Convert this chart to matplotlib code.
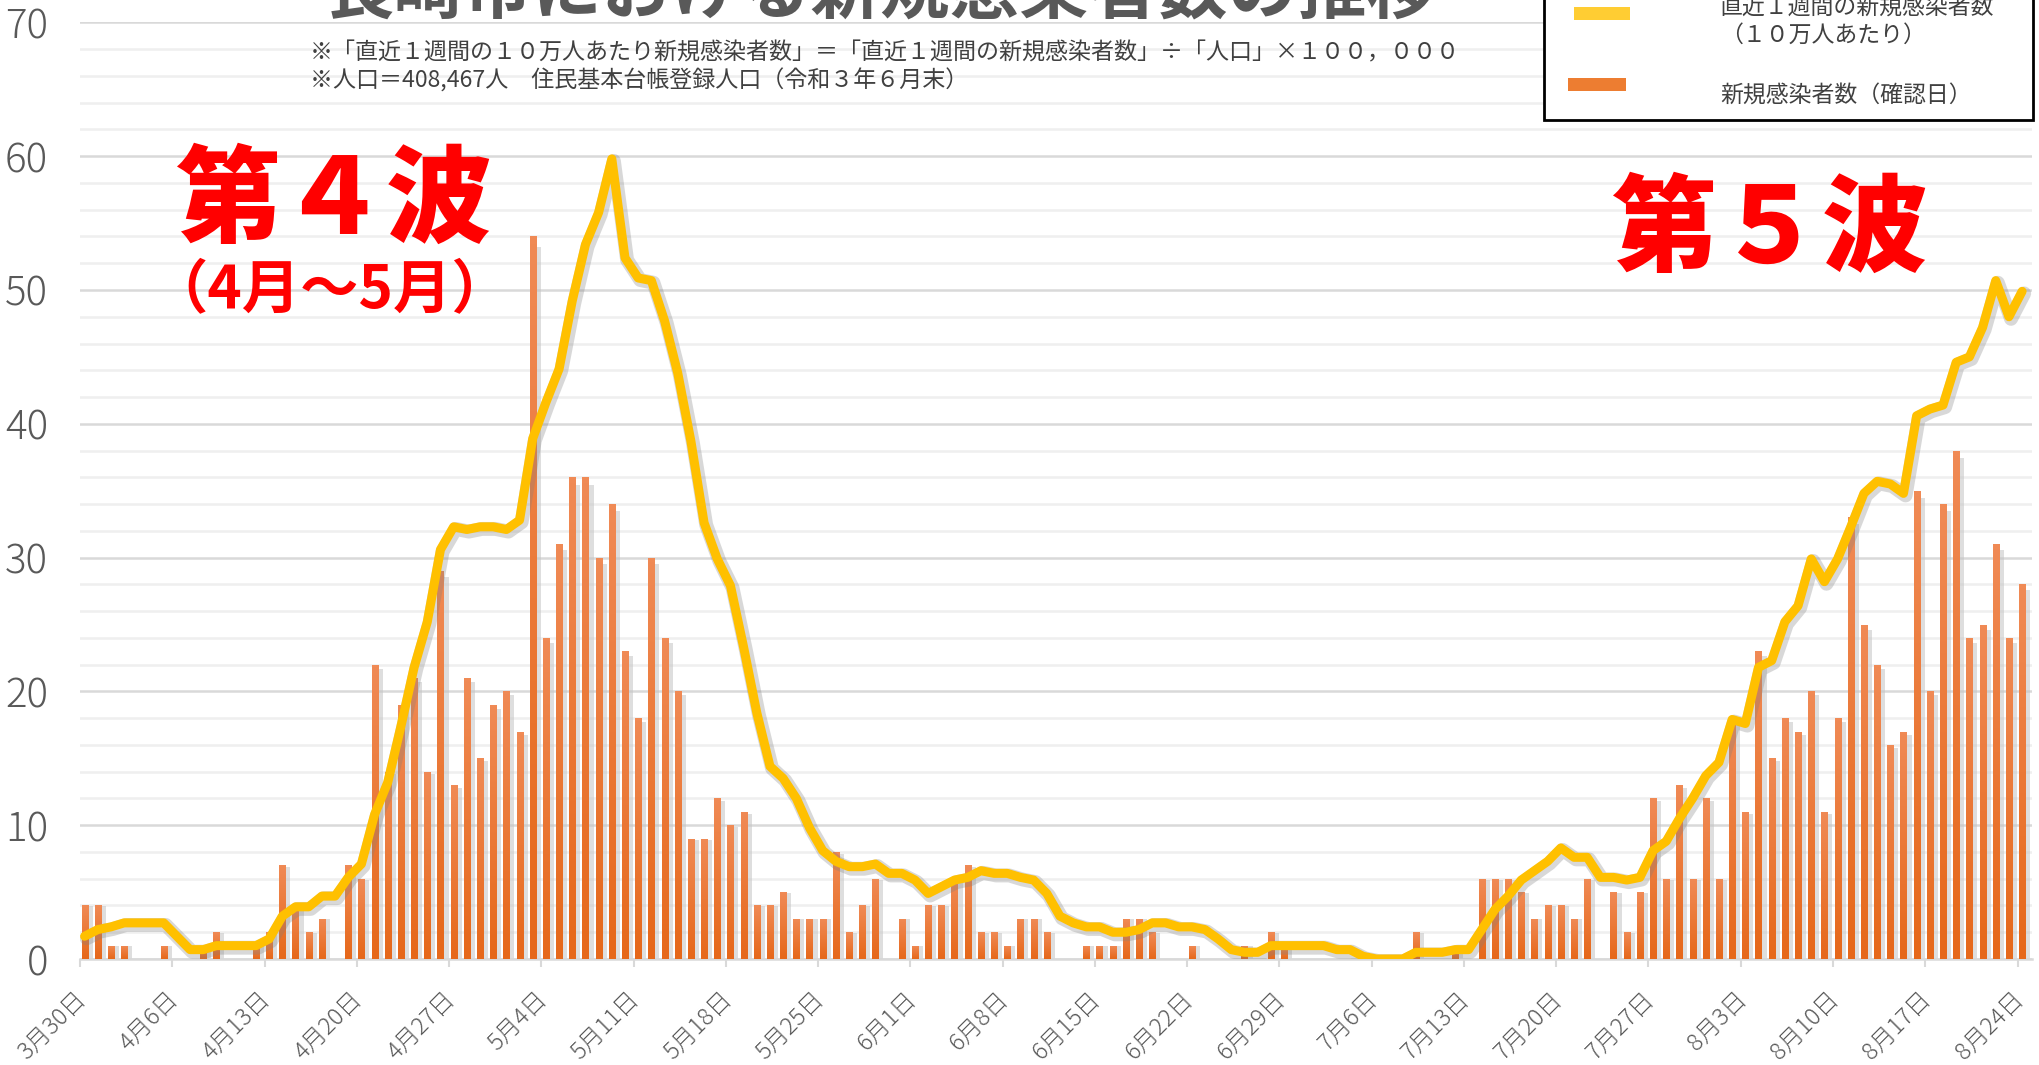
import numpy as np
import matplotlib
matplotlib.use('Agg')
import matplotlib.pyplot as plt
from matplotlib import patheffects as pe
from matplotlib.colors import LinearSegmentedColormap
from matplotlib.patches import Rectangle
from matplotlib.transforms import ScaledTranslation

plt.rcParams['font.family'] = ['Noto Sans CJK JP', 'DejaVu Sans']

# daily new cases (confirmation date), 3/30 .. 8/24
cases = [4, 4, 1, 1, 0, 0, 1, 0, 0, 1, 2, 0, 0, 1, 2, 7, 4, 2, 3, 0,
         7, 6, 22, 14, 19, 21, 14, 29, 13, 21, 15, 19, 20, 17, 54, 24, 31, 36, 36, 30,
         34, 23, 18, 30, 24, 20, 9, 9, 12, 10, 11, 4, 4, 5, 3, 3, 3, 8, 2, 4,
         6, 0, 3, 1, 4, 4, 6, 7, 2, 2, 1, 3, 3, 2, 0, 0, 1, 1, 1, 3,
         3, 2, 0, 0, 1, 0, 0, 0, 1, 0, 2, 1, 0, 0, 0, 0, 0, 0, 0, 0,
         0, 2, 0, 0, 1, 0, 6, 6, 6, 5, 3, 4, 4, 3, 6, 0, 5, 2, 5, 12,
         6, 13, 6, 12, 6, 18, 11, 23, 15, 18, 17, 20, 11, 18, 33, 25, 22, 16, 17, 35,
         20, 34, 38, 24, 25, 31, 24, 28]

# last 7 days per 100k people
per100k = [1.7, 2.2, 2.4, 2.7, 2.7, 2.7, 2.7, 1.7, 0.7, 0.7, 1.0, 1.0, 1.0, 1.0, 1.5, 3.2, 3.9, 3.9, 4.7, 4.7,
           6.1, 7.1, 10.8, 13.2, 17.4, 21.8, 25.2, 30.6, 32.3, 32.1, 32.3, 32.3, 32.1, 32.8, 38.9, 41.6, 44.1, 49.2, 53.4, 55.8,
           59.8, 52.4, 50.9, 50.7, 47.7, 43.8, 38.7, 32.6, 29.9, 27.9, 23.3, 18.4, 14.4, 13.5, 12.0, 9.8, 8.1, 7.3, 6.9, 6.9,
           7.1, 6.4, 6.4, 5.9, 4.9, 5.4, 5.9, 6.1, 6.6, 6.4, 6.4, 6.1, 5.9, 4.9, 3.2, 2.7, 2.4, 2.4, 2.0, 2.0,
           2.2, 2.7, 2.7, 2.4, 2.4, 2.2, 1.5, 0.7, 0.5, 0.5, 1.0, 1.0, 1.0, 1.0, 1.0, 0.7, 0.7, 0.2, 0.0, 0.0,
           0.0, 0.5, 0.5, 0.5, 0.7, 0.7, 2.2, 3.7, 4.7, 5.9, 6.6, 7.3, 8.3, 7.6, 7.6, 6.1, 6.1, 5.9, 6.1, 8.1,
           8.8, 10.5, 12.0, 13.7, 14.7, 17.9, 17.6, 21.8, 22.3, 25.2, 26.4, 29.9, 28.2, 29.9, 32.3, 34.8, 35.7, 35.5, 34.8, 40.6,
           41.1, 41.4, 44.6, 45.0, 47.2, 50.7, 48.0, 49.9]

tick_labels = ['3月30日', '4月6日', '4月13日', '4月20日', '4月27日', '5月4日', '5月11日', '5月18日',
               '5月25日', '6月1日', '6月8日', '6月15日', '6月22日', '6月29日', '7月6日', '7月13日',
               '7月20日', '7月27日', '8月3日', '8月10日', '8月17日', '8月24日']

title = '長崎市における新規感染者数の推移'
note1 = '※「直近１週間の１０万人あたり新規感染者数」＝「直近１週間の新規感染者数」÷「人口」×１００，０００'
note2 = '※人口＝408,467人　住民基本台帳登録人口（令和３年６月末）'
legend_line = ['直近１週間の新規感染者数', '（１０万人あたり）']
legend_bar = '新規感染者数（確認日）'

W, H = 2040, 1065
fig = plt.figure(figsize=(W / 100, H / 100), dpi=100)
fig.patch.set_facecolor('white')


def fx(px):
    return px / W


def fy(py):
    return 1 - py / H


ax = fig.add_axes([fx(80), fy(959), fx(2032) - fx(80), fy(22.4) - fy(959)])

x = np.arange(len(cases)) + 0.35
gray = '#595959'

# bar shadows
ax.bar(x + 0.36, np.array(cases) * 0.985, width=0.5, color='#C4C4C4', alpha=0.55,
       zorder=2, linewidth=0)
bars = ax.bar(x, cases, width=0.46, color='#ED7D31', zorder=3, linewidth=0)

grad_cmap = LinearSegmentedColormap.from_list('og', ['#E6681A', '#F08A55'])
grad = np.linspace(0, 1, 64).reshape(-1, 1)
for b in bars:
    h = b.get_height()
    if h <= 0:
        continue
    im = ax.imshow(grad, extent=[b.get_x(), b.get_x() + b.get_width(), 0, h],
                   aspect='auto', cmap=grad_cmap, origin='lower', zorder=3.1,
                   interpolation='bilinear')
    im.set_clip_path(b)

ax.plot(x, per100k, color='#FFC000', lw=6.5, zorder=5,
        solid_joinstyle='round', solid_capstyle='round',
        path_effects=[pe.SimpleLineShadow(offset=(1.5, -1.5), shadow_color='#7F7F7F',
                                          alpha=0.3, linewidth=10),
                      pe.Normal()])

ax.set_xlim(0, 148.1)
ax.set_ylim(0, 70)
ax.set_yticks(range(0, 71, 10))
ax.set_yticks(np.arange(0, 71, 2), minor=True)
ax.grid(which='major', axis='y', color='#D9D9D9', lw=1.8, zorder=0)
ax.grid(which='minor', axis='y', color='#EFEFEF', lw=1.8, zorder=0)
ax.set_axisbelow(True)
for s in ['top', 'right', 'left']:
    ax.spines[s].set_visible(False)
ax.spines['bottom'].set_color('#D9D9D9')
ax.spines['bottom'].set_linewidth(1.8)

ax.set_xticks(np.arange(0, 148, 7))
ax.set_xticklabels(tick_labels, rotation=45, ha='right', va='top',
                   fontsize=17, color=gray, fontweight='light')
ax.tick_params(axis='x', length=6, width=1.5, color='#D9D9D9', pad=14)
ax.tick_params(axis='y', which='both', length=0, pad=23, labelsize=29, labelcolor=gray)
for lab in ax.get_yticklabels():
    lab.set_family(['Liberation Sans Narrow', 'Noto Sans CJK JP'])
    lab.set_fontweight('light')
offset = ScaledTranslation(11 / 100, 0, fig.dpi_scale_trans)
for lab in ax.get_xticklabels():
    lab.set_transform(lab.get_transform() + offset)

# title (cut off at the top) and notes
fig.text(fx(881), fy(13), title, ha='center', va='baseline', fontsize=50,
         fontweight='bold', color=gray)
fig.text(fx(310), fy(53), note1, ha='left', va='center', fontsize=16.6, color='#404040')
fig.text(fx(310), fy(81), note2, ha='left', va='center', fontsize=16.6, color='#404040')

# wave annotations
fig.text(fx(333), fy(202), '第４波', ha='center', va='center', fontsize=76,
         fontweight='heavy', color='#FF0000')
fig.text(fx(330), fy(290), '（4月～5月）', ha='center', va='center', fontsize=42,
         fontweight='bold', color='#FF0000')
fig.text(fx(1769), fy(231), '第５波', ha='center', va='center', fontsize=76,
         fontweight='heavy', color='#FF0000')

# legend box
fig.add_artist(Rectangle((fx(1544), fy(120)), fx(2033) - fx(1544), 0.3,
                         transform=fig.transFigure, facecolor='white',
                         edgecolor='black', lw=2, zorder=10))
fig.add_artist(Rectangle((fx(1574), fy(20)), fx(1630) - fx(1574), fy(7) - fy(20),
                         transform=fig.transFigure, facecolor='#FFCD33', lw=0, zorder=11))
fig.add_artist(Rectangle((fx(1568), fy(91)), fx(1626) - fx(1568), fy(78) - fy(91),
                         transform=fig.transFigure, facecolor='#ED7D31', lw=0, zorder=11))
fig.text(fx(1720), fy(7), legend_line[0], ha='left', va='center', fontsize=16.5,
         color='#404040', zorder=12)
fig.text(fx(1720), fy(35), legend_line[1], ha='left', va='center', fontsize=16.5,
         color='#404040', zorder=12)
fig.text(fx(1720), fy(96), legend_bar, ha='left', va='center', fontsize=16.5,
         color='#404040', zorder=12)

fig.savefig('out.png', dpi=100)
